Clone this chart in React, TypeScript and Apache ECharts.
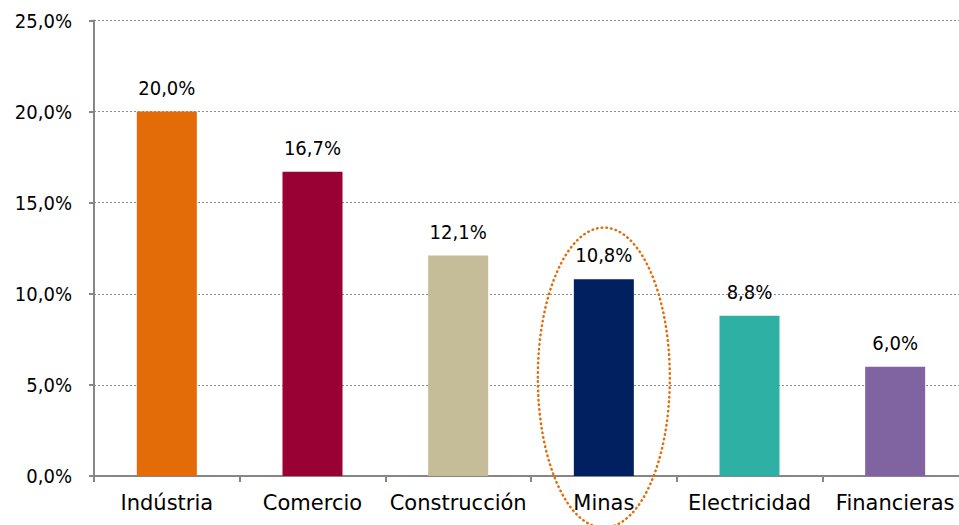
import React, { useEffect, useRef } from "react";
import * as echarts from "echarts";

const categories = ["Indústria", "Comercio", "Construcción", "Minas", "Electricidad", "Financieras"];
const values = [20.0, 16.7, 12.1, 10.8, 8.8, 6.0];
const barColors = ["#E36C09", "#990033", "#C4BD97", "#002060", "#2FB0A4", "#8064A2"];
const yTicks = { min: 0, max: 25, interval: 5 };
const highlighted = "Minas";

const fmt = (v: number) => v.toFixed(1).replace(".", ",") + "%";

export default function App() {
  const ref = useRef<HTMLDivElement>(null);
  useEffect(() => {
    if (!ref.current) return;
    const chart = echarts.init(ref.current, undefined, { renderer: "svg" });
    const axisColor = "#868686";
    chart.setOption({
      animation: false,
      backgroundColor: "#ffffff",
      grid: { left: 94, right: 7, top: 20.5, bottom: 49, containLabel: false },
      xAxis: {
        type: "category",
        data: categories,
        axisLine: { lineStyle: { color: axisColor, width: 2 } },
        axisTick: { show: true, length: 6, lineStyle: { color: axisColor, width: 2 } },
        axisLabel: {
          interval: 0,
          margin: 16,
          color: "#000",
          fontSize: 21,
          fontFamily: "DejaVu Sans",
        },
      },
      yAxis: {
        type: "value",
        min: yTicks.min,
        max: yTicks.max,
        interval: yTicks.interval,
        axisLine: { show: true, lineStyle: { color: axisColor, width: 2 } },
        axisTick: { show: true, length: 5, lineStyle: { color: axisColor, width: 2 } },
        splitLine: { show: true, lineStyle: { color: "#8c8c8c", width: 1.2, type: [2, 2] } },
        axisLabel: {
          margin: 22,
          color: "#000",
          fontSize: 20,
          fontFamily: "DejaVu Sans Condensed, DejaVu Sans",
          formatter: (v: number) => fmt(v),
        },
      },
      series: [
        {
          type: "bar",
          barWidth: 60,
          data: values.map((v, i) => ({ value: v, itemStyle: { color: barColors[i] } })),
          label: {
            show: true,
            position: "top",
            distance: 14,
            color: "#000",
            fontSize: 20,
            fontFamily: "DejaVu Sans Condensed, DejaVu Sans",
            formatter: (p: any) => fmt(p.value),
          },
        },
      ],
    });
    const cx = chart.convertToPixel({ xAxisIndex: 0 }, highlighted) as number;
    const cy = chart.convertToPixel({ yAxisIndex: 0 }, 5.4) as number;
    chart.setOption({
      graphic: [
        {
          type: "ellipse",
          shape: { cx, cy, rx: 66, ry: 150 },
          z: 100,
          style: {
            fill: "none",
            stroke: "#E36C09",
            lineWidth: 2.5,
            lineDash: [0.5, 4.2],
            lineCap: "round",
          },
        },
      ],
    });
    return () => chart.dispose();
  }, []);
  return (
    <div style={{ position: "absolute", left: 0, top: 0, width: 959, height: 525, overflow: "hidden" }}>
      <div ref={ref} style={{ width: 975, height: 525 }} />
    </div>
  );
}
